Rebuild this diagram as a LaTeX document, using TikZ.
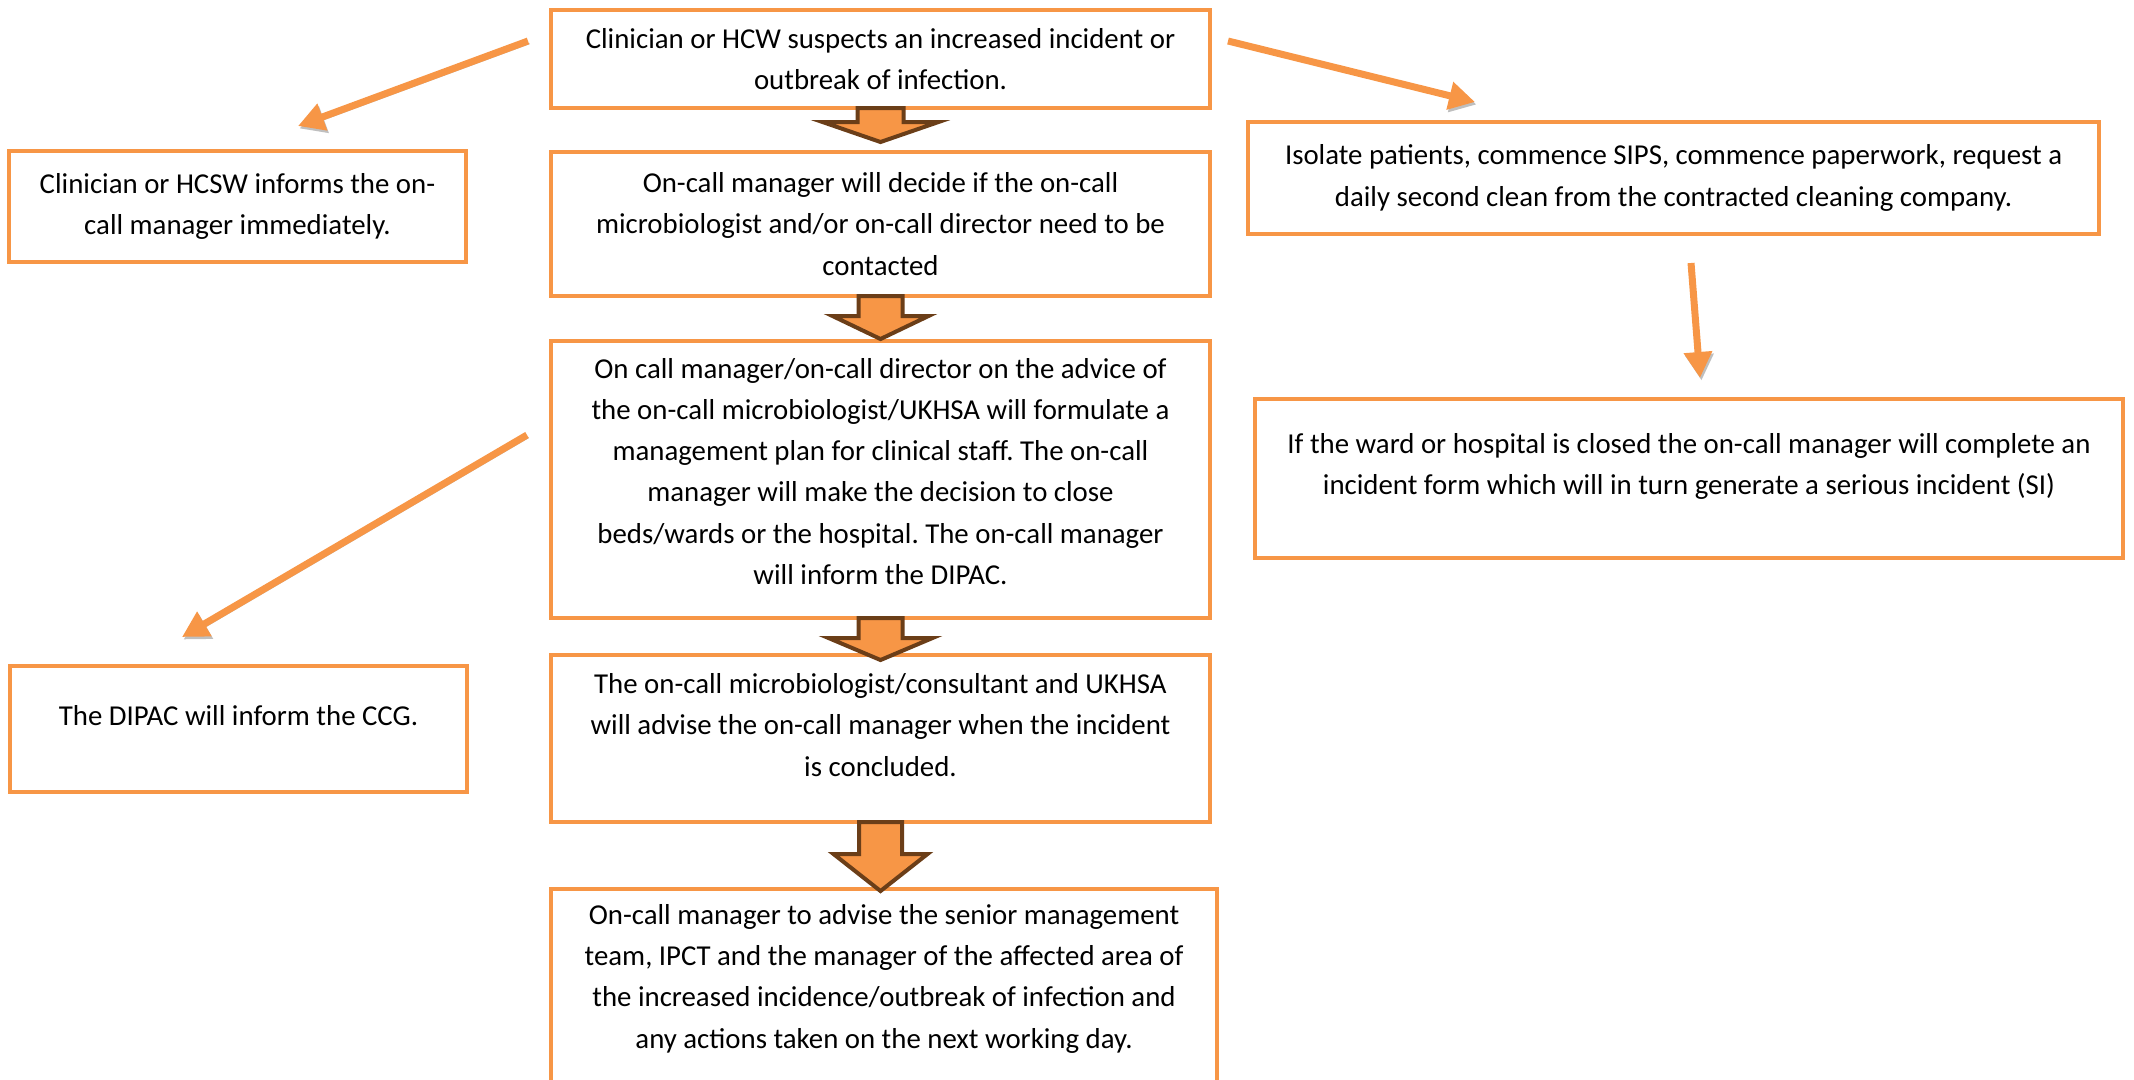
\documentclass[tikz,border=0pt]{standalone}
\usepackage{fontspec}
\setmainfont{Carlito}
\usepackage{tikz}
\usetikzlibrary{positioning, calc, arrows.meta}
\definecolor{boxorange}{HTML}{F79646}
\definecolor{arrowbrown}{HTML}{6B3E18}
\frenchspacing

\newcommand{\downblock}[5]{%
  \begin{scope}[shift={(#1.south)}]
    \draw[blockarrow] (-#4,0.02) -- (-#4,{-#2+#3}) -- (-#5,{-#2+#3}) -- (0,-#2) -- (#5,{-#2+#3}) -- (#4,{-#2+#3}) -- (#4,0.02) -- cycle;
  \end{scope}}

\begin{document}
\begin{tikzpicture}[node distance=0.4cm,
  box/.style={draw=boxorange, line width=0.04cm, fill=white, align=center, inner sep=0pt, font=\fontsize{8.2}{11.7}\selectfont},
  blockarrow/.style={draw=arrowbrown, fill=boxorange, line width=0.04cm, line join=miter},
  thinarrow/.style={draw=boxorange, line width=0.07cm, -{Triangle[length=0.26cm,width=0.27cm]}, preaction={draw=black!25, transform canvas={shift={(0.015,-0.025)}}}}]

\useasboundingbox (0,0) rectangle (21.34,-10.79);

\node[box, minimum width=6.59cm, minimum height=0.98cm] (sus) at (8.805,-0.59) {Clinician or HCW suspects an increased incident or\\outbreak of infection.};
\node[box, minimum width=6.59cm, minimum height=1.44cm, below=0.40cm of sus] (dec) {On-call manager will decide if the on-call\\microbiologist and/or on-call director need to be\\contacted};
\node[box, minimum width=6.59cm, minimum height=2.77cm, text depth=4.6pt, below=0.41cm of dec] (plan) {On call manager/on-call director on the advice of\\the on-call microbiologist/UKHSA will formulate a\\management plan for clinical staff. The on-call\\manager will make the decision to close\\beds/wards or the hospital. The on-call manager\\will inform the DIPAC.};
\node[box, minimum width=6.59cm, minimum height=1.67cm, text depth=7.7pt, below=0.33cm of plan] (conc) {The on-call microbiologist/consultant and UKHSA\\will advise the on-call manager when the incident\\is concluded.};
\node[box, minimum width=6.66cm, minimum height=1.98cm, text depth=6.6pt, below=0.63cm of conc, xshift=0.035cm] (adv) {On-call manager to advise the senior management\\team, IPCT and the manager of the affected area of\\the increased incidence/outbreak of infection and\\any actions taken on the next working day.};

\node[box, minimum width=4.57cm, minimum height=1.11cm] (inf) at (2.375,-2.065) {Clinician or HCSW informs the on-\\call manager immediately.};
\node[box, minimum width=4.57cm, minimum height=1.26cm, text depth=7.7pt] (dip) at (2.385,-7.29) {The DIPAC will inform the CCG.};
\node[box, minimum width=8.51cm, minimum height=1.12cm] (iso) at (16.735,-1.78) {Isolate patients, commence SIPS, commence paperwork, request a\\daily second clean from the contracted cleaning company.};
\node[box, minimum width=8.68cm, minimum height=1.59cm, text depth=8.2pt] (clo) at (16.89,-4.785) {If the ward or hospital is closed the on-call manager will complete an\\incident form which will in turn generate a serious incident (SI)};

\downblock{sus}{0.32}{0.20}{0.23}{0.58}
\downblock{dec}{0.41}{0.23}{0.22}{0.48}
\downblock{plan}{0.40}{0.22}{0.22}{0.52}
\downblock{conc}{0.67}{0.37}{0.215}{0.47}

\coordinate (mid1) at (5.28,-0.41);
\coordinate (mid2) at (2.98,-1.26);
\coordinate (mid3) at (12.28,-0.41);
\coordinate (mid4) at (14.75,-1.02);
\coordinate (mid5) at (16.91,-2.63);
\coordinate (mid6) at (17.00,-3.78);
\coordinate (mid7) at (5.27,-4.35);
\coordinate (mid8) at (1.82,-6.37);

\draw[thinarrow] (mid1) -- (mid2);
\draw[thinarrow] (mid3) -- (mid4);
\draw[thinarrow] (mid5) -- (mid6);
\draw[thinarrow] (mid7) -- (mid8);

\end{tikzpicture}
\end{document}
